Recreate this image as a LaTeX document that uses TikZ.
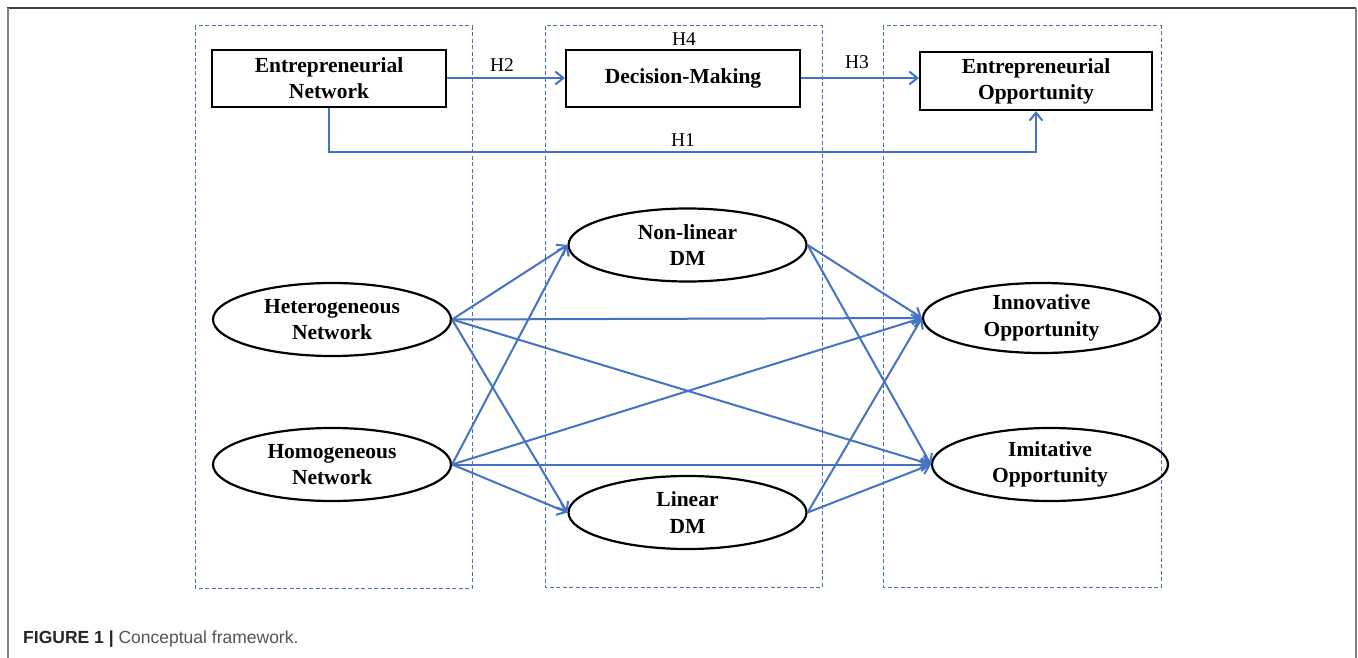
\documentclass[tikz,border=0pt]{standalone}
\usepackage{fontspec}
\setmainfont{Liberation Serif}
\newfontfamily\capfont{Liberation Sans}
\usetikzlibrary{shapes.geometric,arrows.meta,calc}
\definecolor{lineblue}{HTML}{4472C4}
\definecolor{boxblue}{HTML}{4A6FB5}
\definecolor{capgray}{HTML}{555555}
\tikzset{
  rectnode/.style={draw=black,line width=2.2pt,minimum width=234pt,minimum height=57pt,inner sep=0pt,align=center,font=\fontsize{21.5}{26}\selectfont\bfseries},
  ellnode/.style={draw=black,line width=2.2pt,ellipse,minimum width=238pt,minimum height=73pt,inner sep=0pt,align=center,font=\fontsize{21.5}{26.5}\selectfont\bfseries},
  conn/.style={draw=lineblue,line width=2pt,-{Straight Barb[length=8pt,width=13pt]}},
  hlabel/.style={font=\fontsize{19.5}{22}\selectfont,inner sep=0pt},
  groupbox/.style={draw=boxblue,line width=1pt,dash pattern=on 4pt off 2.5pt}
}
\begin{document}
\begin{tikzpicture}[x=1pt,y=-1pt]
\useasboundingbox[fill=white] (0,0) rectangle (1358,658);
% outer frame
\draw[color=black!75,line width=1.5pt] (7,8) -- (1356,8);
\draw[color=black!50,line width=2pt] (7.5,8) -- (7.5,658);
\draw[color=black!50,line width=2pt] (1355.5,8) -- (1355.5,658);
% group boxes
\draw[groupbox] (195,26) rectangle (472,588);
\draw[groupbox] (545,26) rectangle (822,587);
\draw[groupbox] (883,26) rectangle (1161,587);
% top row
\node[rectnode] (en) at (329,78.5) {Entrepreneurial\\Network};
\node[rectnode] (dm) at (683,78.5) {Decision-Making};
\node[rectnode,minimum width=232pt,minimum height=58pt] (eo) at (1036,81) {Entrepreneurial\\Opportunity};
\draw[conn] (en.east |- 0,78) -- (dm.west |- 0,78);
\draw[conn] (dm.east |- 0,78) -- (eo.west |- 0,78);
\draw[conn] (en.south) -- ++(0,43.5) -| (eo.south);
\node[hlabel] (h2) at (502,65) {H2};
\node[hlabel] (h3) at (857,62) {H3};
\node[hlabel] (h4) at (684,39) {H4};
\node[hlabel] (h1) at (683,140) {H1};
% ellipses
\node[ellnode] (het) at (332,319.5) {Heterogeneous\\Network};
\node[ellnode] (hom) at (332,464.5) {Homogeneous\\Network};
\node[ellnode] (nl) at (687.5,245) {Non-linear\\DM};
\node[ellnode] (lin) at (687.5,512.5) {Linear\\DM};
\node[ellnode,minimum width=237pt,minimum height=70pt] (inn) at (1041.5,318) {Innovative\\Opportunity};
\node[ellnode,minimum width=236pt,minimum height=73pt] (imi) at (1050,464.5) {Imitative\\Opportunity};
% connectors
\foreach \s in {het,hom}{
  \draw[conn] (\s.east) -- (nl.west);
  \draw[conn] (\s.east) -- (lin.west);
  \draw[conn] (\s.east) -- (inn.west);
  \draw[conn] (\s.east) -- (imi.west);
}
\foreach \s in {nl,lin}{
  \draw[conn] (\s.east) -- (inn.west);
  \draw[conn] (\s.east) -- (imi.west);
}
% caption
\node[anchor=base west,inner sep=0pt,font=\capfont\fontsize{17.5}{20}\selectfont] (cap) at (23,643)
  {\textcolor{black!85}{\bfseries FIGURE 1 |} \textcolor{capgray}{Conceptual framework.}};
\end{tikzpicture}
\end{document}
